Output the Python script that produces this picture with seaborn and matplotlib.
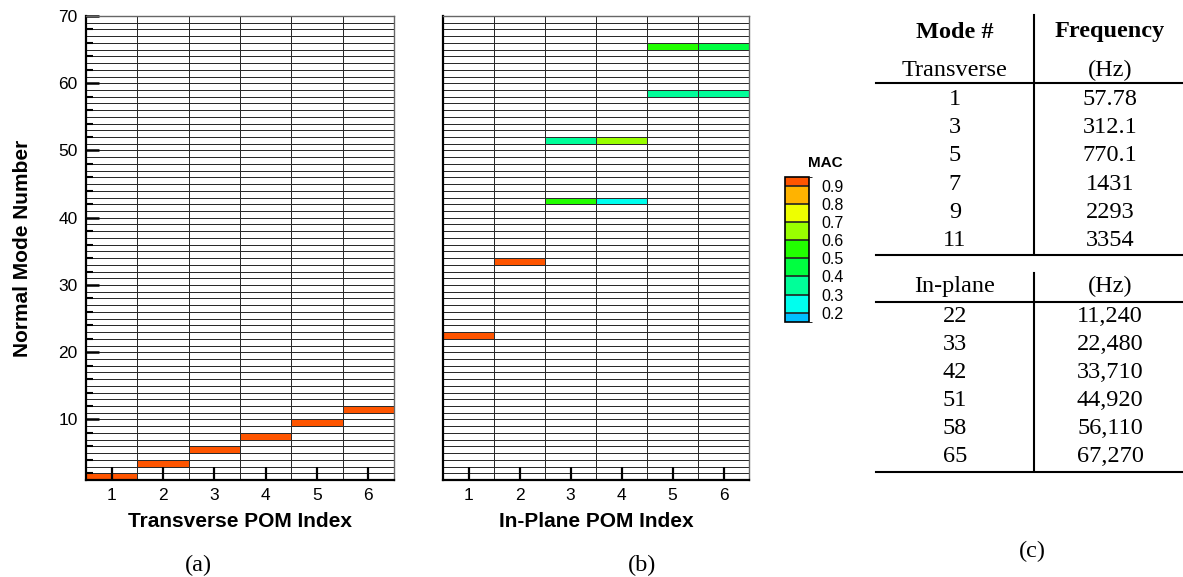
import numpy as np
import pandas as pd
import matplotlib
matplotlib.use("Agg")
import matplotlib.pyplot as plt
import seaborn as sns
from matplotlib.colors import ListedColormap, BoundaryNorm
from matplotlib.cm import ScalarMappable
from matplotlib.ticker import MultipleLocator

plt.rcParams["font.family"] = ["Liberation Sans", "DejaVu Sans"]

# (a) transverse POMs: which normal mode each POM matches, and its MAC
trans_pom = [1, 2, 3, 4, 5, 6]
trans_mode = [1, 3, 5, 7, 9, 11]
trans_mac = [0.93, 0.93, 0.93, 0.93, 0.93, 0.93]

# (b) in-plane POMs
inplane_pom = [1, 2, 3, 4, 3, 4, 5, 6, 5, 6]
inplane_mode = [22, 33, 42, 42, 51, 51, 58, 58, 65, 65]
inplane_mac = [0.93, 0.93, 0.55, 0.25, 0.35, 0.65, 0.35, 0.35, 0.55, 0.45]

pom_index = [1, 2, 3, 4, 5, 6]
n_modes = 69
y_tick_labels = [10, 20, 30, 40, 50, 60, 70]

# MAC colour levels (bottom to top of the legend bar)
mac_levels = [0.15, 0.2, 0.3, 0.4, 0.5, 0.6, 0.7, 0.8, 0.9, 0.95]
mac_colors = ["#00BFFF", "#00FFEE", "#00FF99", "#00FF40", "#22FF00",
              "#99FF00", "#EEFF00", "#FFB300", "#FF5500"]
mac_ticks = [0.2, 0.3, 0.4, 0.5, 0.6, 0.7, 0.8, 0.9]

# (c) frequency table
tab_trans_mode = ["1", "3", "5", "7", "9", "11"]
tab_trans_freq = ["57.78", "312.1", "770.1", "1431", "2293", "3354"]
tab_inplane_mode = ["22", "33", "42", "51", "58", "65"]
tab_inplane_freq = ["11,240", "22,480", "33,710", "44,920", "56,110", "67,270"]

W, H = 1183, 577

# empty cells are 0 -> white, the rest follow the MAC levels
cell_cmap = ListedColormap(["white"] + mac_colors)
cell_norm = BoundaryNorm([0.0] + mac_levels, len(mac_colors) + 1)


def mac_grid(pom, mode, mac):
    grid = pd.DataFrame(0.0, index=range(1, n_modes + 1), columns=pom_index)
    for p, m, v in zip(pom, mode, mac):
        grid.loc[m, p] = v
    return grid


def draw_panel(ax, grid, xlabel, show_y):
    sns.heatmap(grid, ax=ax, cmap=cell_cmap, norm=cell_norm, cbar=False,
                linewidths=0.7, linecolor="#2a2a2a",
                xticklabels=pom_index, yticklabels=False)
    ax.invert_yaxis()  # mode 1 at the bottom
    for name, spine in ax.spines.items():
        spine.set_visible(True)
        if name in ("left", "bottom"):
            spine.set_color("black")
            spine.set_linewidth(1.6)
        else:
            spine.set_color("#666666")
            spine.set_linewidth(1.0)
    ax.tick_params(axis="x", which="major", direction="in", length=9.5,
                   width=1.6, labelsize=12.5, pad=6, rotation=0)
    if show_y:
        ax.set_yticks(np.array(y_tick_labels) - 1, labels=y_tick_labels)
        ax.yaxis.set_minor_locator(MultipleLocator(2, offset=1))
        ax.tick_params(axis="y", which="major", direction="in", length=9.5,
                       width=1.8, labelsize=12.5, pad=6, rotation=0)
        ax.tick_params(axis="y", which="minor", direction="in", length=5,
                       width=1.5)
        ax.set_ylabel("Normal Mode Number", fontsize=15, fontweight="bold")
        ax.yaxis.set_label_coords(-0.175, 0.5)
    else:
        ax.set_yticks([])
        ax.set_ylabel("")
    ax.set_xlabel(xlabel, fontsize=15, fontweight="bold")
    ax.xaxis.set_label_coords(0.5, -0.069)


fig = plt.figure(figsize=(W / 100, H / 100), dpi=100)

# pixel-coordinate overlay for captions and the table
ax_t = fig.add_axes([0, 0, 1, 1])
ax_t.set_xlim(0, W)
ax_t.set_ylim(H, 0)
ax_t.axis("off")

ax_a = fig.add_axes([86 / W, 1 - 480 / H, 308 / W, 464 / H])
ax_b = fig.add_axes([443 / W, 1 - 480 / H, 306 / W, 464 / H])

draw_panel(ax_a, mac_grid(trans_pom, trans_mode, trans_mac),
           "Transverse POM Index", True)
draw_panel(ax_b, mac_grid(inplane_pom, inplane_mode, inplane_mac),
           "In-Plane POM Index", False)

# MAC legend bar
cax = fig.add_axes([785 / W, 1 - 321.7 / H, 24 / W, 145 / H])
cb = fig.colorbar(ScalarMappable(norm=BoundaryNorm(mac_levels, len(mac_colors)),
                                 cmap=ListedColormap(mac_colors)),
                  cax=cax, spacing="proportional", ticks=mac_ticks,
                  drawedges=True)
cb.ax.tick_params(length=0, labelsize=11.5, pad=9)
cb.outline.set_linewidth(1.2)
cb.dividers.set_linewidth(1.2)
cb.dividers.set_color("#222222")
ax_t.text(825, 163, "MAC", ha="center", va="center", fontsize=11,
          fontweight="bold")

# captions
serif = ["Liberation Serif", "DejaVu Serif"]
for x, y, s in [(198, 565, "(a)"), (642, 565, "(b)"), (1032, 551, "(c)")]:
    ax_t.text(x, y, s, ha="center", va="center", fontsize=17.5, family=serif)

# table (c)
col_l, col_r = 955, 1110
fs = 17.5
ax_t.text(col_l, 32, "Mode #", ha="center", va="center", fontsize=fs,
          fontweight="bold", family=serif)
ax_t.text(col_r, 32, "Frequency", ha="center", va="center", fontsize=fs,
          fontweight="bold", family=serif)
ax_t.text(col_l, 70, "Transverse", ha="center", va="center", fontsize=fs,
          family=serif)
ax_t.text(col_r, 70, "(Hz)", ha="center", va="center", fontsize=fs,
          family=serif)
for i, (m, f) in enumerate(zip(tab_trans_mode, tab_trans_freq)):
    y = 99.5 + i * 28.2
    ax_t.text(col_l, y, m, ha="center", va="center", fontsize=fs, family=serif)
    ax_t.text(col_r, y, f, ha="center", va="center", fontsize=fs, family=serif)

ax_t.text(col_l, 286.7, "In-plane", ha="center", va="center", fontsize=fs,
          family=serif)
ax_t.text(col_r, 286.7, "(Hz)", ha="center", va="center", fontsize=fs,
          family=serif)
for i, (m, f) in enumerate(zip(tab_inplane_mode, tab_inplane_freq)):
    y = 316 + i * 28
    ax_t.text(col_l, y, m, ha="center", va="center", fontsize=fs, family=serif)
    ax_t.text(col_r, y, f, ha="center", va="center", fontsize=fs, family=serif)

line_kw = dict(color="black", linewidth=1.5)
ax_t.plot([1034, 1034], [15, 254], **line_kw)
ax_t.plot([876, 1183], [83.3, 83.3], **line_kw)
ax_t.plot([876, 1183], [255, 255], **line_kw)
ax_t.plot([1034, 1034], [272.7, 470.7], **line_kw)
ax_t.plot([876, 1183], [301.7, 301.7], **line_kw)
ax_t.plot([876, 1183], [471.7, 471.7], **line_kw)

fig.savefig("out.png", dpi=100)
